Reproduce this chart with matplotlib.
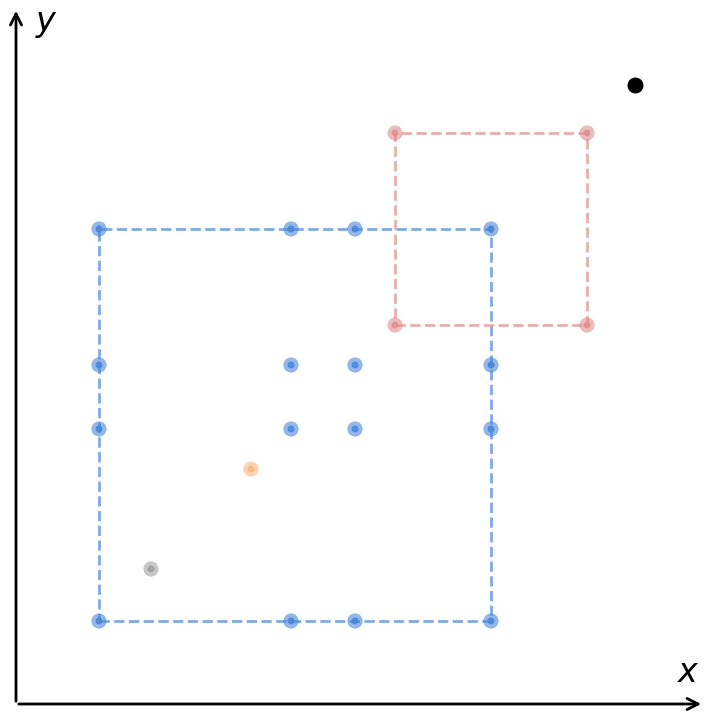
import matplotlib
matplotlib.use('Agg')
import matplotlib.pyplot as plt
import numpy as np

# grid of blue points (corner square + inner ones)
blue_x = [83, 275, 339, 475]
blue_y = [83, 275, 339, 475]
red_x = [379, 571]
red_y = [379, 571]
black_pt = (619, 619)
orange_pt = (235, 235)
gray_pt = (135, 135)

blue = '#4a86d8'
red = '#e09a9a'

fig = plt.figure(figsize=(7.2, 7.2), dpi=100)
ax = fig.add_axes([0, 0, 1, 1])
ax.set_xlim(-16, 704)
ax.set_ylim(-16, 704)
ax.axis('off')

# axes arrows
ax.annotate('', xy=(688, 0), xytext=(0, 0),
            arrowprops=dict(arrowstyle='->', lw=2, color='black', mutation_scale=20))
ax.annotate('', xy=(0, 696), xytext=(0, 0),
            arrowprops=dict(arrowstyle='->', lw=2, color='black', mutation_scale=20))
ax.text(672, 32, '$x$', fontsize=24, ha='center', va='center')
ax.text(30, 680, '$y$', fontsize=24, ha='center', va='center')

# dashed squares
bx0, bx1 = min(blue_x), max(blue_x)
by0, by1 = min(blue_y), max(blue_y)
ax.plot([bx0, bx1, bx1, bx0, bx0], [by0, by0, by1, by1, by0], '--', color=blue, alpha=0.7, lw=2)
rx0, rx1 = min(red_x), max(red_x)
ry0, ry1 = min(red_y), max(red_y)
ax.plot([rx0, rx1, rx1, rx0, rx0], [ry0, ry0, ry1, ry1, ry0], '--', color=red, alpha=0.8, lw=2)

def dots(xs, ys, c):
    ax.scatter(xs, ys, s=120, color=c, alpha=0.6, edgecolors='none', zorder=3)
    ax.scatter(xs, ys, s=25, color=c, alpha=0.9, edgecolors='none', zorder=4)

gx, gy = np.meshgrid(blue_x, blue_y)
dots(gx.ravel(), gy.ravel(), blue)
rgx, rgy = np.meshgrid(red_x, red_y)
dots(rgx.ravel(), rgy.ravel(), '#e09090')
dots([orange_pt[0]], [orange_pt[1]], '#f8b880')
dots([gray_pt[0]], [gray_pt[1]], '#a0a0a0')
ax.scatter([black_pt[0]], [black_pt[1]], s=110, color='black', zorder=5)

fig.savefig('out.png', dpi=100)
